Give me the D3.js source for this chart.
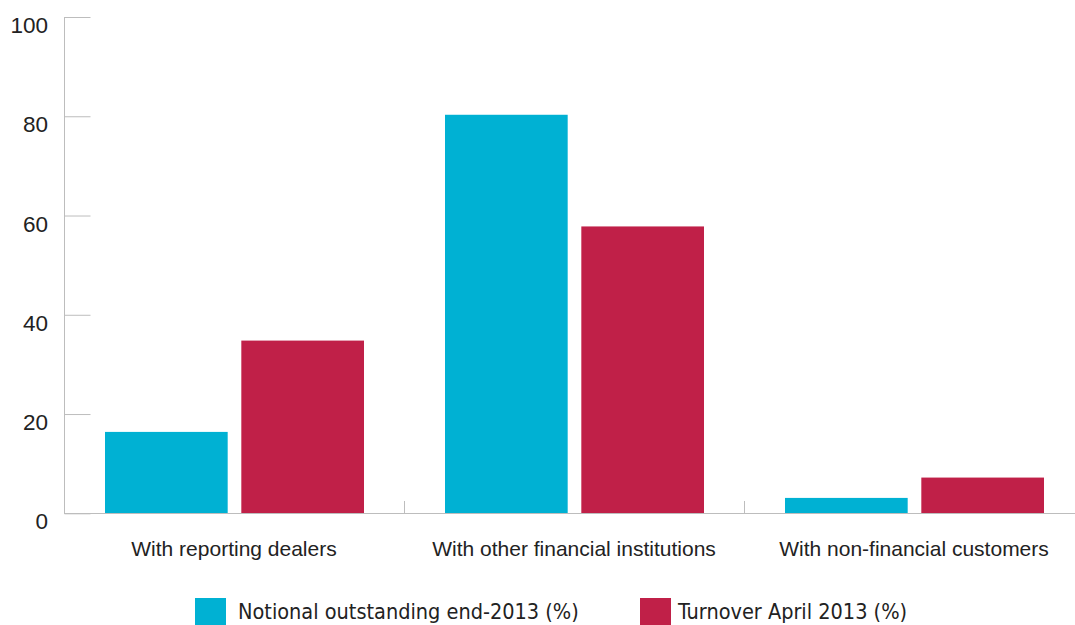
<!DOCTYPE html>
<html>
<head>
<meta charset="utf-8">
<script src="https://cdn.jsdelivr.net/npm/d3@7"></script>
<style>
  body { margin: 0; background: #fff; overflow: hidden; }
</style>
</head>
<body>
<script>
const categories = ["With reporting dealers", "With other financial institutions", "With non-financial customers"];
const seriesNames = ["Notional outstanding end-2013 (%)", "Turnover April 2013 (%)"];
const notional = [16.4, 80.3, 3.1];
const turnover = [34.8, 57.8, 7.2];
const yTicks = [0, 20, 40, 60, 80, 100];
const colors = ["#00b1d3", "#c02048"];

const width = 1075, height = 625;
const marginLeft = 64, marginTop = 17, baseline = 513.3;

const svg = d3.select("body").append("svg")
  .attr("width", width)
  .attr("height", height);

const x = d3.scaleBand(categories, [marginLeft, marginLeft + 3 * 340]);
const xInner = d3.scaleBand([0, 1], [41, 300]).paddingInner(0.1);
const y = d3.scaleLinear([0, 100], [baseline, marginTop]);

const axisColor = "#bdbdbd";

// y axis with short inward ticks
svg.append("g")
  .attr("transform", `translate(${marginLeft + 0.5},0)`)
  .call(d3.axisRight(y).tickValues(yTicks).tickSize(26).tickFormat(""))
  .call(g => g.select(".domain").attr("stroke", axisColor).attr("d", `M0,${y(100)}V${y(0)}`))
  .call(g => g.selectAll(".tick line").attr("stroke", axisColor));

svg.append("g")
  .selectAll("text")
  .data(yTicks)
  .join("text")
  .attr("x", 48)
  .attr("y", d => y(d) + 16)
  .attr("text-anchor", "end")
  .attr("font-family", "Liberation Sans, Arial, sans-serif")
  .attr("font-size", 22.5)
  .attr("fill", "#222")
  .text(d => d);

// bars
const rows = categories.map((c, i) => [notional[i], turnover[i]]);
svg.append("g")
  .selectAll("g")
  .data(rows)
  .join("g")
  .attr("transform", (d, i) => `translate(${x(categories[i])},0)`)
  .selectAll("rect")
  .data(d => d)
  .join("rect")
  .attr("x", (d, j) => xInner(j))
  .attr("width", xInner.bandwidth())
  .attr("y", d => y(d))
  .attr("height", d => y(0) - y(d))
  .attr("fill", (d, j) => colors[j]);

// x axis baseline and category separators
svg.append("g")
  .attr("transform", `translate(0,${Math.round(baseline) + 0.5})`)
  .call(d3.axisBottom(x).tickSize(0).tickFormat(""))
  .call(g => g.select(".domain").attr("stroke", axisColor).attr("d", `M${marginLeft},0H${width}`))
  .call(g => g.selectAll(".tick").remove());

svg.append("g")
  .selectAll("line")
  .data(categories.slice(1))
  .join("line")
  .attr("x1", d => x(d) + 0.5)
  .attr("x2", d => x(d) + 0.5)
  .attr("y1", 501)
  .attr("y2", baseline)
  .attr("stroke", axisColor);

svg.append("g")
  .selectAll("text")
  .data(categories)
  .join("text")
  .attr("x", d => x(d) + x.bandwidth() / 2)
  .attr("y", 556)
  .attr("text-anchor", "middle")
  .attr("font-family", "Liberation Sans, Arial, sans-serif")
  .attr("font-size", 21)
  .attr("fill", "#222")
  .text(d => d);

// legend
const legendX = [195, 640];
const legend = svg.append("g")
  .selectAll("g")
  .data(seriesNames)
  .join("g")
  .attr("transform", (d, i) => `translate(${legendX[i]},598)`);

legend.append("rect")
  .attr("width", 31)
  .attr("height", 30)
  .attr("fill", (d, i) => colors[i]);

legend.append("text")
  .attr("x", (d, i) => i === 0 ? 43 : 38)
  .attr("y", 21)
  .attr("font-family", "Liberation Sans Narrow, DejaVu Sans Condensed, sans-serif")
  .attr("font-stretch", "condensed")
  .attr("font-size", 21.5)
  .attr("fill", "#222")
  .text(d => d);
</script>
</body>
</html>
